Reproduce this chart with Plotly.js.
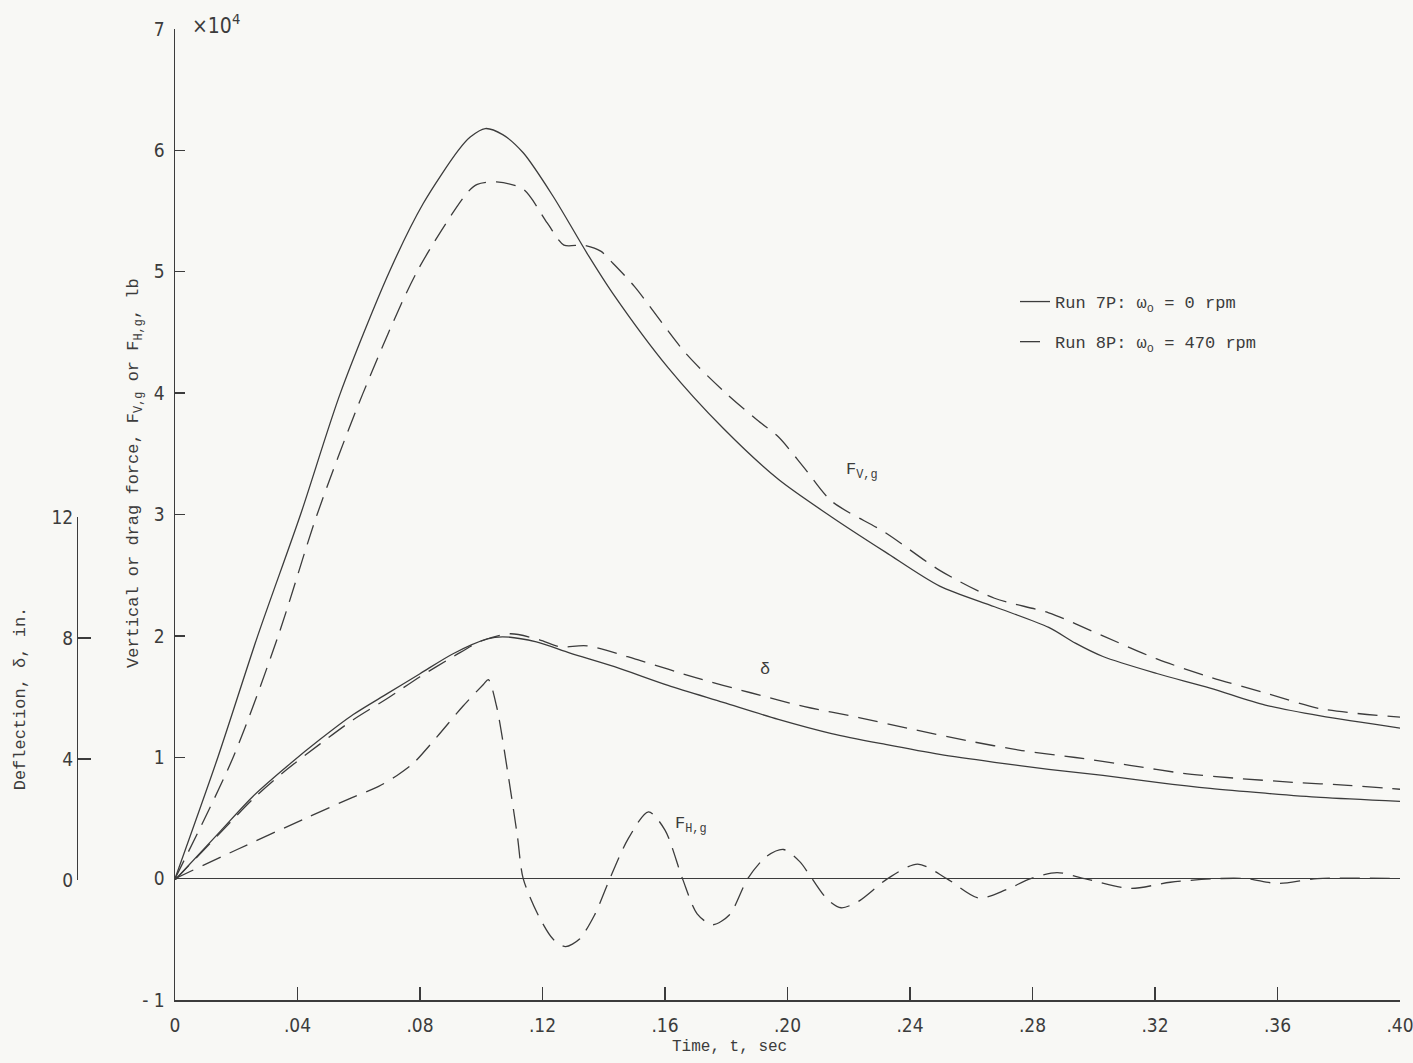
<!DOCTYPE html>
<html>
<head>
<meta charset="utf-8">
<script src="https://cdn.plot.ly/plotly-3.0.1.min.js"></script>
<style>html,body{margin:0;padding:0;background:#f8f8f5;}#chart{width:1413px;height:1063px;}</style>
</head>
<body>
<div id="chart"></div>
<script>
// ---- Data ----
// Vertical force F_V,g, units of 10^4 lb
const tFv7 = [0, 0.014, 0.027, 0.041, 0.054, 0.070, 0.081, 0.0925, 0.0964, 0.1013, 0.107, 0.1137, 0.1235, 0.1346, 0.143, 0.161, 0.179, 0.197, 0.2144, 0.232, 0.2497, 0.2676, 0.2853, 0.294, 0.303, 0.3206, 0.338, 0.356, 0.374, 0.40];
const fv7  = [0, 1.0, 2.0, 3.0, 4.0, 5.0, 5.56, 6.0, 6.11, 6.18, 6.13, 5.98, 5.62, 5.15, 4.82, 4.21, 3.71, 3.29, 2.98, 2.69, 2.41, 2.24, 2.07, 1.94, 1.83, 1.69, 1.57, 1.43, 1.34, 1.24];
const tFv8 = [0, 0.019, 0.0337, 0.0464, 0.0614, 0.079, 0.0954, 0.0987, 0.105, 0.1137, 0.1216, 0.127, 0.1333, 0.139, 0.143, 0.150, 0.1667, 0.179, 0.190, 0.197, 0.2056, 0.2144, 0.232, 0.2497, 0.2676, 0.2853, 0.303, 0.3206, 0.338, 0.356, 0.374, 0.40];
const fv8  = [0, 1.0, 2.0, 3.0, 4.0, 5.0, 5.65, 5.72, 5.74, 5.68, 5.40, 5.22, 5.22, 5.17, 5.07, 4.88, 4.33, 4.02, 3.78, 3.64, 3.38, 3.11, 2.85, 2.54, 2.31, 2.19, 2.00, 1.81, 1.66, 1.53, 1.40, 1.33];
// Deflection delta, in.
const tD7 = [0, 0.0147, 0.0255, 0.0366, 0.0474, 0.0582, 0.0693, 0.080, 0.0908, 0.102, 0.107, 0.118, 0.129, 0.1435, 0.161, 0.179, 0.197, 0.2144, 0.232, 0.2497, 0.2676, 0.2853, 0.303, 0.3206, 0.338, 0.356, 0.374, 0.40];
const d7  = [0, 1.6, 2.77, 3.76, 4.65, 5.47, 6.16, 6.82, 7.48, 7.97, 8.04, 7.87, 7.5, 7.05, 6.43, 5.87, 5.31, 4.84, 4.48, 4.15, 3.89, 3.66, 3.46, 3.23, 3.03, 2.87, 2.73, 2.60];
const tD8 = [0, 0.0147, 0.0255, 0.0366, 0.0474, 0.0582, 0.0693, 0.080, 0.0908, 0.1, 0.1095, 0.119, 0.1258, 0.1346, 0.152, 0.170, 0.188, 0.2056, 0.2233, 0.241, 0.2585, 0.2765, 0.294, 0.3118, 0.329, 0.347, 0.365, 0.383, 0.40];
const d8  = [0, 1.55, 2.68, 3.66, 4.5, 5.3, 6.0, 6.72, 7.38, 7.9, 8.14, 7.94, 7.71, 7.74, 7.25, 6.69, 6.19, 5.73, 5.37, 4.98, 4.61, 4.28, 4.05, 3.79, 3.53, 3.36, 3.23, 3.13, 3.0];
// Drag force F_H,g (run 8P), units of 10^4 lb
const tFh8 = [0, 0.0203, 0.042, 0.058, 0.0665, 0.0725, 0.0778, 0.0856, 0.094, 0.1007, 0.1023, 0.105, 0.1085, 0.1118, 0.1137, 0.119, 0.1235, 0.1275, 0.132, 0.137, 0.142, 0.148, 0.1546, 0.160, 0.1657, 0.1705, 0.1755, 0.181, 0.187, 0.193, 0.1987, 0.204, 0.208, 0.213, 0.2175, 0.223, 0.2327, 0.2425, 0.252, 0.2625, 0.2715, 0.2794, 0.288, 0.297, 0.312, 0.325, 0.34, 0.35, 0.36, 0.373, 0.40];
const fh8  = [0, 0.24, 0.49, 0.67, 0.76, 0.85, 0.95, 1.17, 1.42, 1.60, 1.64, 1.42, 0.90, 0.35, 0.0, -0.32, -0.50, -0.56, -0.50, -0.30, 0.0, 0.33, 0.55, 0.40, 0.0, -0.29, -0.38, -0.30, 0.0, 0.18, 0.24, 0.14, 0.0, -0.17, -0.24, -0.19, 0.0, 0.12, 0.0, -0.16, -0.09, 0.0, 0.05, 0.0, -0.08, -0.03, 0.0, 0.0, -0.04, 0.0, 0.0];

// Ticks
const xTickVals = [0, 0.04, 0.08, 0.12, 0.16, 0.20, 0.24, 0.28, 0.32, 0.36, 0.40];
const xTickText = ['0', '.04', '.08', '.12', '.16', '.20', '.24', '.28', '.32', '.36', '.40'];
const yTickVals = [-1, 0, 1, 2, 3, 4, 5, 6, 7];
const yTickText = ['- 1', '0', '1', '2', '3', '4', '5', '6', '7'];
const y2TickVals = [0, 4, 8, 12];
const y2TickText = ['0', '4', '8', '12'];

const names = ['Run 7P: \u03c9<sub>o</sub> = 0 rpm', 'Run 8P: \u03c9<sub>o</sub> = 470 rpm'];

// ---- Style ----
const INK = '#3c3c3c';
const BG = '#f8f8f5';
const MONO = 'Liberation Mono, DejaVu Sans Mono, monospace';
const TICKF = 'Liberation Sans Narrow, DejaVu Sans Condensed, sans-serif';
const solid = {color: INK, width: 1.3, shape: 'spline', smoothing: 0.8};
const dashed = {color: INK, width: 1.3, shape: 'spline', smoothing: 0.8, dash: '20px,10px'};

const traces = [
  {x: tFv7, y: fv7, type: 'scatter', mode: 'lines', line: solid, name: names[0], legendgroup: '7P', showlegend: true},
  {x: tFv8, y: fv8, type: 'scatter', mode: 'lines', line: dashed, name: names[1], legendgroup: '8P', showlegend: true},
  {x: tD7, y: d7, type: 'scatter', mode: 'lines', line: solid, name: names[0] + ' (\u03b4)', legendgroup: '7P', showlegend: false, yaxis: 'y2'},
  {x: tD8, y: d8, type: 'scatter', mode: 'lines', line: dashed, name: names[1] + ' (\u03b4)', legendgroup: '8P', showlegend: false, yaxis: 'y2'},
  {x: tFh8, y: fh8, type: 'scatter', mode: 'lines', line: dashed, name: names[1] + ' (F<sub>H,g</sub>)', legendgroup: '8P', showlegend: false}
];

const L = 20, R = 13, T = 29, B = 63, W = 1413, H = 1063;
const PW = W - L - R, PH = H - T - B;
const px = v => (v - L) / PW;          // page px -> paper x
const py = v => (H - B - v) / PH;      // page px -> paper y

const layout = {
  width: W, height: H,
  paper_bgcolor: BG, plot_bgcolor: 'rgba(0,0,0,0)',
  margin: {l: L, r: R, t: T, b: B},
  showlegend: true,
  legend: {
    x: px(1015), y: py(284), xanchor: 'left', yanchor: 'top',
    bgcolor: 'rgba(0,0,0,0)', font: {family: MONO, size: 17, color: INK},
    traceorder: 'grouped', tracegroupgap: 15
  },
  xaxis: {
    domain: [px(175), 1], range: [0, 0.40],
    tickmode: 'array', tickvals: xTickVals, ticktext: xTickText,
    ticks: 'inside', ticklen: 13, tickcolor: INK, tickwidth: 1.3,
    showline: true, linecolor: INK, linewidth: 1.5,
    showgrid: false, zeroline: false, ticklabelstandoff: 8, ticklabeloverflow: 'allow',
    tickfont: {family: TICKF, size: 19, color: INK}
  },
  yaxis: {
    range: [-1, 7],
    tickmode: 'array', tickvals: yTickVals, ticktext: yTickText,
    ticks: 'inside', ticklen: 10, tickcolor: INK, tickwidth: 1.3,
    showline: true, linecolor: INK, linewidth: 1.5,
    showgrid: false, zeroline: true, zerolinecolor: INK, zerolinewidth: 1.5,
    ticklabelstandoff: 5,
    tickfont: {family: TICKF, size: 19, color: INK}
  },
  yaxis2: {
    domain: [py(880), py(517)], range: [0, 12],
    anchor: 'free', position: px(77), side: 'left',
    tickmode: 'array', tickvals: y2TickVals, ticktext: y2TickText,
    ticks: 'inside', ticklen: 13, tickcolor: INK, tickwidth: 1.3,
    showline: true, linecolor: INK, linewidth: 1.3,
    showgrid: false, zeroline: false,
    tickfont: {family: TICKF, size: 19, color: INK},
    title: {text: 'Deflection, \u03b4, in.', font: {family: MONO, size: 17, color: INK}, standoff: 20}
  },
  annotations: [
    {xref: 'paper', yref: 'paper', x: px(135), y: py(473), xanchor: 'center', yanchor: 'middle',
     text: 'Vertical or drag force, F<sub>V,g</sub> or F<sub>H,g</sub>, lb',
     textangle: -90, showarrow: false, font: {family: MONO, size: 17, color: INK}},
    {xref: 'paper', yref: 'paper', x: px(729), y: py(1047), xanchor: 'center', yanchor: 'middle',
     text: 'Time, t, sec', showarrow: false, font: {family: MONO, size: 16, color: INK}},
    {xref: 'paper', yref: 'paper', x: px(190), y: py(24), xanchor: 'left', yanchor: 'middle',
     text: '\u00d710<sup>4</sup>', showarrow: false, font: {family: TICKF, size: 21, color: INK}},
    {xref: 'x', yref: 'y', x: 0.2183, y: 3.36, xanchor: 'left', yanchor: 'middle', text: 'F<sub>V,g</sub>',
     showarrow: false, font: {family: MONO, size: 17, color: INK}},
    {xref: 'x', yref: 'y', x: 0.1928, y: 1.72, xanchor: 'center', yanchor: 'middle', text: '\u03b4',
     showarrow: false, font: {family: MONO, size: 17, color: INK}},
    {xref: 'x', yref: 'y', x: 0.1625, y: 0.44, xanchor: 'left', yanchor: 'middle', text: 'F<sub>H,g</sub>',
     showarrow: false, font: {family: MONO, size: 17, color: INK}}
  ]
};

Plotly.newPlot('chart', traces, layout, {displayModeBar: false, staticPlot: true});
</script>
</body>
</html>
